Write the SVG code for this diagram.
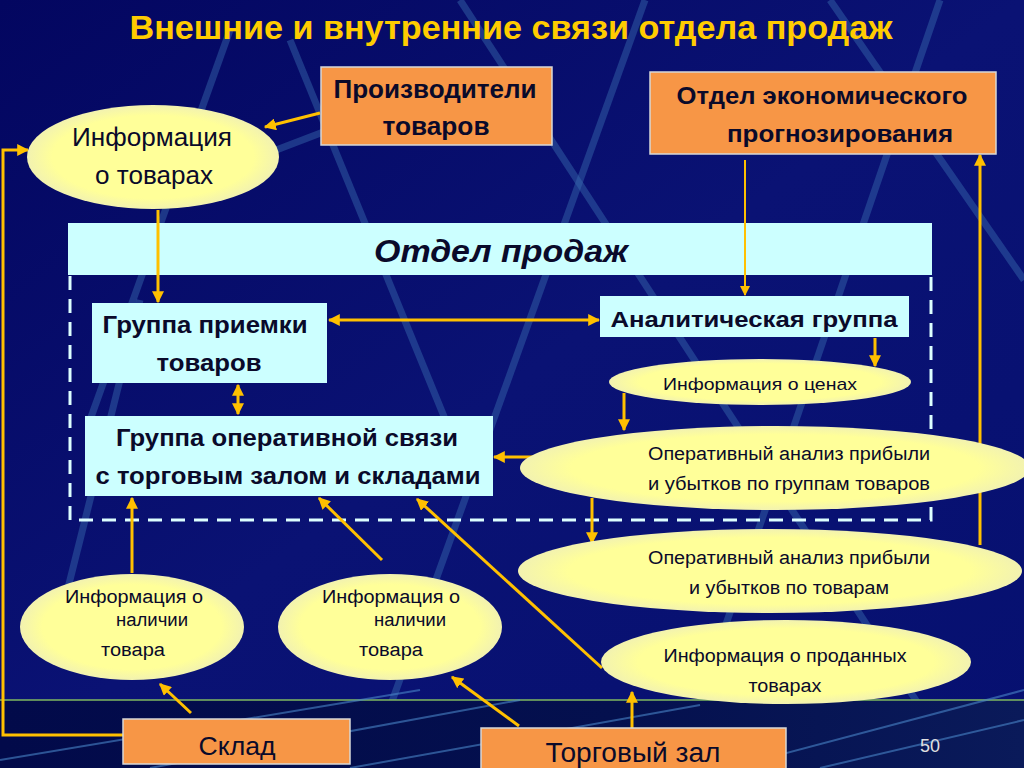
<svg xmlns="http://www.w3.org/2000/svg" width="1024" height="768" viewBox="0 0 1024 768">
<defs>
<linearGradient id="bg" x1="0" y1="0" x2="1" y2="1">
<stop offset="0" stop-color="#030660"/>
<stop offset="0.5" stop-color="#0a1274"/>
<stop offset="1" stop-color="#061070"/>
</linearGradient>
<linearGradient id="band" x1="0" y1="0" x2="1" y2="0">
<stop offset="0" stop-color="#020a4a"/>
<stop offset="0.6" stop-color="#04104e"/>
<stop offset="1" stop-color="#0a1a5a"/>
</linearGradient>
<radialGradient id="ell" cx="0.5" cy="0.5" r="0.5">
<stop offset="0.8" stop-color="#FFFF99"/>
<stop offset="1" stop-color="#F2F2B0"/>
</radialGradient>
<marker id="ah" viewBox="0 0 10 10" refX="9" refY="5" markerWidth="4" markerHeight="4" orient="auto-start-reverse" markerUnits="strokeWidth">
<path d="M0,0 L10,5 L0,10 z" fill="#FFC000"/>
</marker>
<marker id="ahs" viewBox="0 0 10 10" refX="9" refY="5" markerWidth="5" markerHeight="5" orient="auto-start-reverse" markerUnits="strokeWidth">
<path d="M0,0 L10,5 L0,10 z" fill="#FFC000"/>
</marker>
</defs>
<style>
.deco{stroke:#3a6cb0;stroke-width:7;stroke-opacity:0.45;fill:none}
.thin{stroke:#4a86c8;stroke-width:2;stroke-opacity:0.6;fill:none}
.orange{fill:#F79646;stroke:#d8d8d8;stroke-width:1.5}
.cyan{fill:#CCFFFF}
.ellipse{fill:url(#ell)}
.t{font-family:"Liberation Sans",Arial,sans-serif;fill:#0a0a2a;text-anchor:middle}
.b{font-weight:bold}
.c{stroke:#FFC000;stroke-width:3;fill:none}
.c2{stroke:#FFC000;stroke-width:2;fill:none}
</style>
<rect width="1024" height="768" fill="url(#bg)"/>
<g id="background">
<path class="deco" d="M645,0 L368,768"/>
<path class="deco" d="M460,0 L960,768"/>
<path class="deco" d="M940,0 L700,700"/>
<path class="deco" d="M230,30 L90,420"/>
<path class="deco" d="M290,40 L470,480"/>
<path class="deco" d="M250,160 L420,95"/>
<path class="deco" d="M830,0 L1024,280"/>
<path class="deco" d="M140,300 L60,620"/>
<rect x="0" y="700" width="1024" height="68" fill="url(#band)"/>
<line x1="0" y1="700" x2="1024" y2="700" stroke="#7fb860" stroke-width="1.5"/>
<path class="thin" d="M0,760 L420,690"/>
<path class="thin" d="M150,768 L520,700"/>
<path class="thin" d="M350,768 L700,705"/>
<path class="thin" d="M760,760 L1024,690"/>
<path class="thin" d="M820,768 L1024,720"/>
</g>
<text class="t b" x="511" y="39" font-size="33" style="fill:#FFCC00" textLength="763" lengthAdjust="spacingAndGlyphs">Внешние и внутренние связи отдела продаж</text>
<g id="sales-dept">
<rect class="cyan" x="68" y="223" width="864" height="52"/>
<text class="t b" x="501" y="262" font-size="32" font-style="italic" textLength="254" lengthAdjust="spacingAndGlyphs">Отдел продаж</text>
<path d="M70,276 V520 H931 V276" fill="none" stroke="#DDFFFF" stroke-width="3" stroke-dasharray="14 9"/>
</g>
<g id="connectors">
<path class="c" d="M320,113 L265,127" marker-end="url(#ah)"/>
<path class="c" d="M123,735 H3 V150 H28" marker-end="url(#ah)"/>
<path class="c" d="M158,210 V302" marker-end="url(#ah)"/>
<path class="c" d="M329,320 H599" marker-start="url(#ah)" marker-end="url(#ah)"/>
<path class="c2" d="M745,160 V295" marker-end="url(#ahs)"/>
<path class="c" d="M875,338 V366" marker-end="url(#ah)"/>
<path class="c" d="M624,393 V430" marker-end="url(#ah)"/>
<path class="c" d="M535,457 H494" marker-end="url(#ah)"/>
<path class="c" d="M592,498 V543" marker-end="url(#ah)"/>
<path class="c" d="M980,545 V155" marker-end="url(#ah)"/>
<path class="c" d="M238,385 V414" marker-start="url(#ah)" marker-end="url(#ah)"/>
<path class="c" d="M132,573 V498" marker-end="url(#ah)"/>
<path class="c" d="M382,560 L319,498" marker-end="url(#ah)"/>
<path class="c" d="M602,668 L417,499" marker-end="url(#ah)"/>
<path class="c" d="M191,713 L160,684" marker-end="url(#ah)"/>
<path class="c" d="M519,726 L452,677" marker-end="url(#ah)"/>
<path class="c" d="M632,730 V692" marker-end="url(#ah)"/>
</g>
<g id="producers">
<rect class="orange" x="321" y="67" width="231" height="78"/>
<text class="t b" x="435" y="98" font-size="25" textLength="203" lengthAdjust="spacingAndGlyphs">Производители</text>
<text class="t b" x="436" y="135" font-size="25" textLength="107" lengthAdjust="spacingAndGlyphs">товаров</text>
</g>
<g id="forecast">
<rect class="orange" x="650" y="72" width="346" height="82"/>
<text class="t b" x="822" y="104" font-size="23" textLength="291" lengthAdjust="spacingAndGlyphs">Отдел экономического</text>
<text class="t b" x="840" y="142" font-size="23" textLength="226" lengthAdjust="spacingAndGlyphs">прогнозирования</text>
</g>
<g id="info-goods">
<ellipse class="ellipse" cx="153" cy="157" rx="126" ry="52"/>
<text class="t" x="152" y="146" font-size="26" textLength="160" lengthAdjust="spacingAndGlyphs">Информация</text>
<text class="t" x="154" y="184" font-size="26" textLength="118" lengthAdjust="spacingAndGlyphs">о товарах</text>
</g>
<g id="reception">
<rect class="cyan" x="92" y="303" width="235" height="80"/>
<text class="t b" x="205" y="333" font-size="23" textLength="205" lengthAdjust="spacingAndGlyphs">Группа приемки</text>
<text class="t b" x="209" y="371" font-size="23" textLength="105" lengthAdjust="spacingAndGlyphs">товаров</text>
</g>
<g id="analytics">
<rect class="cyan" x="600" y="296" width="309" height="41"/>
<text class="t b" x="754" y="327" font-size="22" textLength="287" lengthAdjust="spacingAndGlyphs">Аналитическая группа</text>
</g>
<g id="info-prices">
<ellipse class="ellipse" cx="760" cy="382" rx="151" ry="23"/>
<text class="t" x="760" y="390" font-size="17" textLength="194" lengthAdjust="spacingAndGlyphs">Информация  о ценах</text>
</g>
<g id="operative">
<rect class="cyan" x="85" y="416" width="408" height="80"/>
<text class="t b" x="287" y="446" font-size="23" textLength="342" lengthAdjust="spacingAndGlyphs">Группа оперативной связи</text>
<text class="t b" x="288" y="484" font-size="23" textLength="385" lengthAdjust="spacingAndGlyphs">с торговым залом и складами</text>
</g>
<g id="analysis-groups">
<ellipse class="ellipse" cx="775" cy="468" rx="255" ry="42"/>
<text class="t" x="789" y="460" font-size="18" textLength="282" lengthAdjust="spacingAndGlyphs">Оперативный  анализ  прибыли</text>
<text class="t" x="789" y="490" font-size="18" textLength="282" lengthAdjust="spacingAndGlyphs">и убытков по группам товаров</text>
</g>
<g id="analysis-goods">
<ellipse class="ellipse" cx="770" cy="571" rx="252" ry="42"/>
<text class="t" x="789" y="564" font-size="18" textLength="282" lengthAdjust="spacingAndGlyphs">Оперативный  анализ  прибыли</text>
<text class="t" x="789" y="594" font-size="18" textLength="200" lengthAdjust="spacingAndGlyphs">и убытков по товарам</text>
</g>
<g id="info-sold">
<ellipse class="ellipse" cx="786" cy="662" rx="185" ry="42"/>
<text class="t" x="785" y="662" font-size="18" textLength="243" lengthAdjust="spacingAndGlyphs">Информация  о проданных</text>
<text class="t" x="785" y="692" font-size="18" textLength="73" lengthAdjust="spacingAndGlyphs">товарах</text>
</g>
<g id="info-stock-1">
<ellipse class="ellipse" cx="132" cy="627" rx="112" ry="53"/>
<text class="t" x="134" y="603" font-size="18" textLength="138" lengthAdjust="spacingAndGlyphs">Информация  о</text>
<text class="t" x="152" y="626" font-size="18" textLength="72" lengthAdjust="spacingAndGlyphs">наличии</text>
<text class="t" x="133" y="656" font-size="18" textLength="64" lengthAdjust="spacingAndGlyphs">товара</text>
</g>
<g id="info-stock-2">
<ellipse class="ellipse" cx="390" cy="627" rx="112" ry="53"/>
<text class="t" x="391" y="603" font-size="18" textLength="138" lengthAdjust="spacingAndGlyphs">Информация  о</text>
<text class="t" x="410" y="626" font-size="18" textLength="72" lengthAdjust="spacingAndGlyphs">наличии</text>
<text class="t" x="391" y="656" font-size="18" textLength="64" lengthAdjust="spacingAndGlyphs">товара</text>
</g>
<g id="warehouse">
<rect class="orange" x="123" y="719" width="227" height="45"/>
<text class="t" x="237" y="755" font-size="26" textLength="77" lengthAdjust="spacingAndGlyphs">Склад</text>
</g>
<g id="hall">
<rect class="orange" x="481" y="728" width="305" height="45"/>
<text class="t" x="633" y="762" font-size="27" textLength="175" lengthAdjust="spacingAndGlyphs">Торговый  зал</text>
</g>
<text x="930" y="752" font-family="Liberation Sans,Arial,sans-serif" font-size="18" fill="#E0E0E0" text-anchor="middle">50</text>
</svg>
